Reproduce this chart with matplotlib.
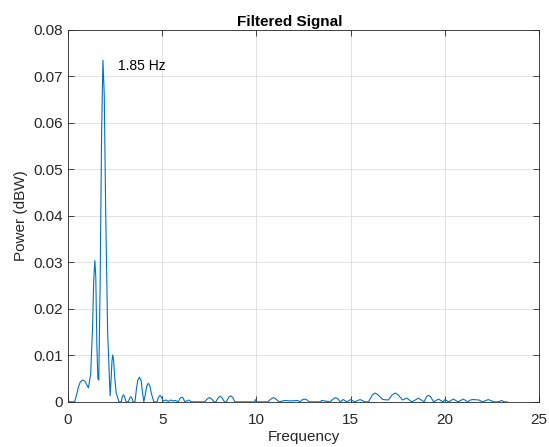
import matplotlib.pyplot as plt

# Power spectrum (frequency in Hz, power)
freq = [0.0, 0.35, 0.45, 0.55, 0.65, 0.78, 0.9, 1.0, 1.08, 1.2, 1.3, 1.36, 1.42, 1.47, 1.53, 1.58, 1.63,
        1.70, 1.78, 1.85, 1.92, 2.0, 2.1, 2.23, 2.28, 2.33, 2.37, 2.42, 2.48, 2.55, 2.7,
        2.82, 2.88, 2.94, 3.0, 3.08, 3.2, 3.27, 3.33, 3.39, 3.45, 3.55, 3.62, 3.7, 3.79, 3.88, 3.95, 4.02,
        4.1, 4.18, 4.26, 4.34, 4.42, 4.55, 4.72, 4.8, 4.88, 4.96, 5.05, 5.2, 5.32, 5.45, 5.58, 5.7,
        5.85, 5.95, 6.03, 6.11, 6.2, 6.4, 6.55, 7.25, 7.4, 7.5, 7.6, 7.75, 7.85, 7.97, 8.07, 8.17,
        8.3, 8.4, 8.53, 8.63, 8.73, 8.85,
        9.9, 9.95, 10.0, 10.6, 10.8, 10.9, 11.0, 11.2, 11.5, 11.8, 12.2, 12.3, 12.45, 12.55, 12.65, 12.8,
        13.4, 13.45, 13.9, 14.1, 14.2, 14.3, 14.45, 14.6, 14.8, 15.0, 15.2, 15.5, 15.75,
        15.95, 16.15, 16.3, 16.45, 16.7, 17.0, 17.2, 17.37, 17.52, 17.75, 17.98, 18.25, 18.6, 18.9,
        19.02, 19.13, 19.24, 19.4, 19.66, 19.9, 20.0, 20.2, 20.45, 20.7, 20.98, 21.2,
        21.35, 21.5, 21.8, 22.0, 22.3, 22.6, 22.85, 23.0, 23.15, 23.3]
power = [0.0, 0.0, 0.0015, 0.0032, 0.0043, 0.0047, 0.0044, 0.0036, 0.003, 0.006, 0.016, 0.026, 0.0304, 0.027, 0.012, 0.005, 0.0047,
         0.025, 0.058, 0.0735, 0.066, 0.04, 0.015, 0.0013, 0.0045, 0.0088, 0.0101, 0.0088, 0.005, 0.002, 0.0,
         0.0, 0.0011, 0.0015, 0.0011, 0.0, 0.0, 0.0008, 0.0011, 0.0008, 0.0, 0.0, 0.0025, 0.0047, 0.0053, 0.0045, 0.002, 0.0,
         0.0016, 0.0035, 0.004, 0.0034, 0.0018, 0.0, 0.0, 0.001, 0.0014, 0.001, 0.0002, 0.0004, 0.0001, 0.0004, 0.0002, 0.0003,
         0.0, 0.0008, 0.0010, 0.0008, 0.0, 0.0004, 0.0, 0.0, 0.0007, 0.0009, 0.0007, 0.0, 0.0, 0.0009, 0.0012, 0.0009,
         0.0, 0.0, 0.001, 0.0013, 0.001, 0.0,
         0.0, 0.0005, 0.0, 0.0, 0.0007, 0.0009, 0.0007, 0.0, 0.0003, 0.0002, 0.0003, 0.0, 0.0005, 0.0006, 0.0005, 0.0,
         0.0, 0.0003, 0.0, 0.0007, 0.0009, 0.0007, 0.0, 0.0005, 0.0, 0.0005, 0.0, 0.0005, 0.0,
         0.0, 0.0015, 0.0019, 0.0015, 0.0005, 0.0004, 0.0015, 0.0019, 0.0015, 0.0004, 0.0008, 0.0, 0.0008, 0.0,
         0.0011, 0.0014, 0.0011, 0.0, 0.0006, 0.0, 0.0005, 0.0, 0.0006, 0.0, 0.0006, 0.0,
         0.0004, 0.0005, 0.0004, 0.0, 0.0005, 0.0, 0.0, 0.0003, 0.0, 0.0]

xticks = [0, 5, 10, 15, 20, 25]
yticks = [0, 0.01, 0.02, 0.03, 0.04, 0.05, 0.06, 0.07, 0.08]
ytick_labels = ["0", "0.01", "0.02", "0.03", "0.04", "0.05", "0.06", "0.07", "0.08"]

plt.rcParams['font.family'] = ['Liberation Sans', 'DejaVu Sans']

fig = plt.figure(figsize=(5.49, 4.47), dpi=100)
ax = fig.add_axes([0.124, 0.101, 0.858, 0.832])

ax.plot(freq, power, color="#0072BD", linewidth=0.8)
ax.text(2.65, 0.0723, "1.85 Hz", fontsize=10, va="center", ha="left")

ax.set_xlim(0, 25)
ax.set_ylim(0, 0.08)
ax.set_xticks(xticks)
ax.set_yticks(yticks)
ax.set_yticklabels(ytick_labels)
ax.grid(True, color="#dcdcdc", linewidth=0.6)
ax.set_axisbelow(True)
ax.tick_params(direction="in", length=4, top=True, right=True, labelsize=11,
               colors="#262626", width=0.6)
ax.tick_params(axis="x", pad=8)
for s in ax.spines.values():
    s.set_color("#262626")
    s.set_linewidth(0.6)

ax.set_title("Filtered Signal", fontsize=11, fontweight="bold", pad=3, x=0.47)
ax.set_xlabel("Frequency", fontsize=11, color="#262626", labelpad=2)
ax.set_ylabel("Power (dBW)", fontsize=11, color="#262626", labelpad=4)

fig.savefig("out.png", dpi=100)
